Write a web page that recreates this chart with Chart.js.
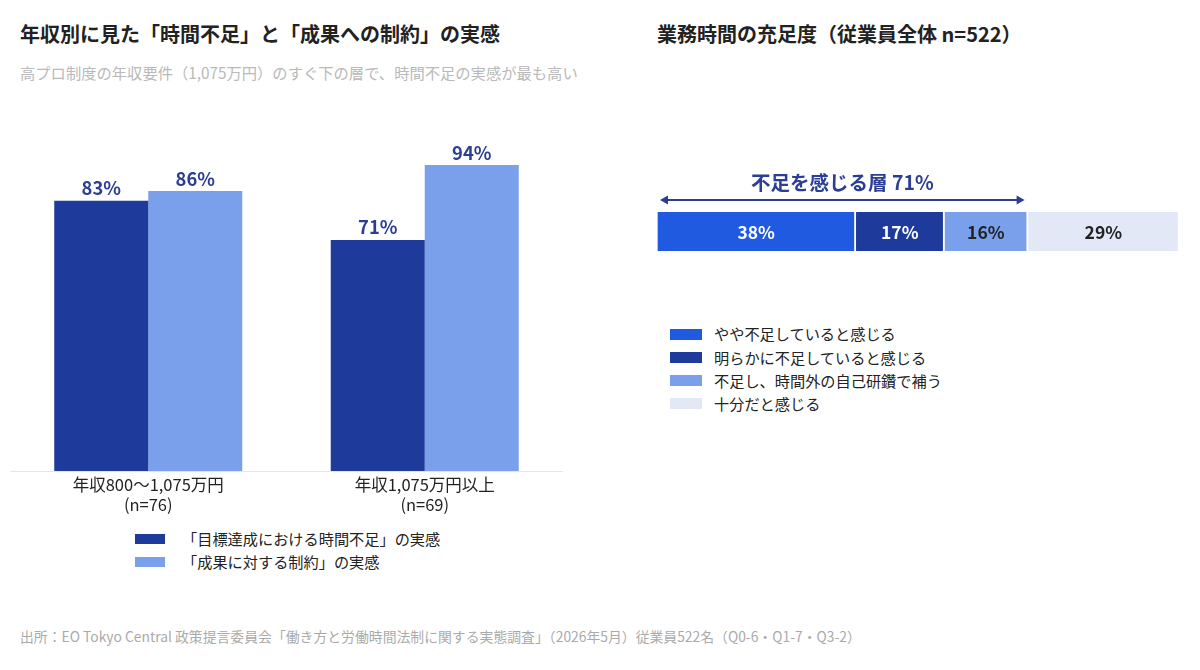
<!DOCTYPE html>
<html lang="ja">
<head>
<meta charset="utf-8">
<script src="https://cdn.jsdelivr.net/npm/chart.js@4.4.1/dist/chart.umd.min.js"></script>
<style>
  html, body { margin:0; padding:0; background:#fff; }
  body { width:1200px; height:670px; position:relative; overflow:hidden;
         font-family:"Noto Sans CJK JP","Noto Sans",sans-serif; color:#222; }
  .abs { position:absolute; }
  .title { font-size:20px; font-weight:700; color:#222; line-height:1; white-space:nowrap; }
  .sub { font-size:15.3px; color:#b9b9b9; line-height:1; white-space:nowrap; }
  .foot { font-size:13.85px; color:#aaa; line-height:1; white-space:nowrap; }
  .leg { font-size:15.2px; color:#222; line-height:1; white-space:nowrap; display:flex; align-items:center; }
  .sw { display:inline-block; }
</style>
</head>
<body>
<script>
// ---- Data ----
const leftCategories = [["年収800〜1,075万円", "(n=76)"], ["年収1,075万円以上", "(n=69)"]];
const leftSeriesNames = ["「目標達成における時間不足」の実感", "「成果に対する制約」の実感"];
const timeShortage = [83, 71];
const constraint = [86, 94];

const rightSeriesNames = ["やや不足していると感じる", "明らかに不足していると感じる", "不足し、時間外の自己研鑽で補う", "十分だと感じる"];
const rightValues = [38, 17, 16, 29];
const shortageLabel = "不足を感じる層";
</script>

<div class="abs title" style="left:20px; top:24px;">年収別に見た「時間不足」と「成果への制約」の実感</div>
<div class="abs sub" style="left:20px; top:65px;">高プロ制度の年収要件（1,075万円）のすぐ下の層で、時間不足の実感が最も高い</div>
<div class="abs title" style="left:657px; top:24px;">業務時間の充足度（従業員全体 n=522）</div>

<div class="abs" style="left:10px; top:120px; width:553px; height:400px;"><canvas id="left"></canvas></div>
<div class="abs" style="left:657px; top:150px; width:522px; height:120px;"><canvas id="right"></canvas></div>

<div id="legL" class="abs" style="left:135px; top:527.5px;"></div>
<div id="legR" class="abs" style="left:670px; top:322.5px;"></div>

<div class="abs foot" style="left:20px; top:630px;">出所：EO Tokyo Central 政策提言委員会「働き方と労働時間法制に関する実態調査」（2026年5月）従業員522名（Q0-6・Q1-7・Q3-2）</div>

<script>
const FONT = '"Noto Sans CJK JP","Noto Sans",sans-serif';
const leftColors = ["#1e3a9a", "#7aa0ec"];
const rightColors = ["#1f5ae0", "#1e3a9a", "#7aa0ec", "#e2e8f6"];
const rightLabelColors = ["#ffffff", "#ffffff", "#222222", "#222222"];
const navy = "#2b3e94";

// Left legend
const legL = document.getElementById('legL');
leftSeriesNames.forEach((n, i) => {
  const d = document.createElement('div');
  d.className = 'leg';
  d.style.height = '23px';
  d.innerHTML = `<span class="sw" style="background:${leftColors[i]};width:30px;height:10px;"></span><span style="margin-left:17px;">${n}</span>`;
  legL.appendChild(d);
});
// Right legend
const legR = document.getElementById('legR');
rightSeriesNames.forEach((n, i) => {
  const d = document.createElement('div');
  d.className = 'leg';
  d.style.height = '23.2px';
  d.innerHTML = `<span class="sw" style="background:${rightColors[i]};width:32px;height:11px;"></span><span style="margin-left:12px;">${n}</span>`;
  legR.appendChild(d);
});

const topLabels = {
  id: 'topLabels',
  afterDatasetsDraw(chart) {
    const ctx = chart.ctx;
    ctx.save();
    ctx.font = `700 18.4px ${FONT}`;
    ctx.fillStyle = navy;
    ctx.textAlign = 'center';
    ctx.textBaseline = 'middle';
    chart.data.datasets.forEach((ds, di) => {
      chart.getDatasetMeta(di).data.forEach((bar, i) => {
        ctx.fillText(ds.data[i] + '%', bar.x, bar.y - 12.5);
      });
    });
    ctx.restore();
  }
};

new Chart(document.getElementById('left'), {
  type: 'bar',
  data: {
    labels: leftCategories,
    datasets: [
      { label: leftSeriesNames[0], data: timeShortage, backgroundColor: leftColors[0] },
      { label: leftSeriesNames[1], data: constraint, backgroundColor: leftColors[1] }
    ]
  },
  options: {
    responsive: true, maintainAspectRatio: false, animation: false,
    layout: { padding: { top: 25.5, left: 0, right: 0, bottom: 0 } },
    datasets: { bar: { categoryPercentage: 0.68, barPercentage: 1.0 } },
    plugins: { legend: { display: false }, tooltip: { enabled: false } },
    scales: {
      y: { display: false, min: 0, max: 100 },
      x: {
        grid: { display: false, drawTicks: false },
        border: { display: true, color: '#e6e6e6', width: 1 },
        ticks: { color: '#222', font: { family: FONT, size: 16.5, lineHeight: 1.21 }, padding: 4, maxRotation: 0 },
        afterFit(scale) { scale.height = 49; }
      }
    }
  },
  plugins: [topLabels]
});

const segLabels = {
  id: 'segLabels',
  afterDatasetsDraw(chart) {
    const ctx = chart.ctx;
    ctx.save();
    ctx.font = `600 17.5px ${FONT}`;
    ctx.textAlign = 'center';
    ctx.textBaseline = 'middle';
    chart.data.datasets.forEach((ds, di) => {
      const bar = chart.getDatasetMeta(di).data[0];
      const cx = (bar.x + bar.base) / 2;
      ctx.fillStyle = rightLabelColors[di];
      ctx.fillText(ds.data[0] + '%', cx, bar.y + 0.5);
    });
    // arrow over shortage segments
    const sx = chart.scales.x;
    const shortageSum = rightValues.slice(0, 3).reduce((a, b) => a + b, 0);
    const x0 = sx.getPixelForValue(0) + 3, x1 = sx.getPixelForValue(shortageSum) - 3;
    const y = chart.chartArea.top - 12;
    ctx.strokeStyle = navy; ctx.fillStyle = navy; ctx.lineWidth = 2;
    ctx.beginPath(); ctx.moveTo(x0 + 4, y); ctx.lineTo(x1 - 4, y); ctx.stroke();
    ctx.beginPath(); ctx.moveTo(x0, y); ctx.lineTo(x0 + 8, y - 4.5); ctx.lineTo(x0 + 8, y + 4.5); ctx.closePath(); ctx.fill();
    ctx.beginPath(); ctx.moveTo(x1, y); ctx.lineTo(x1 - 8, y - 4.5); ctx.lineTo(x1 - 8, y + 4.5); ctx.closePath(); ctx.fill();
    ctx.font = `700 19.5px ${FONT}`;
    ctx.textBaseline = 'middle';
    ctx.fillText(shortageLabel + ' ' + shortageSum + '%', (x0 + x1) / 2, y - 17);
    ctx.restore();
  }
};

new Chart(document.getElementById('right'), {
  type: 'bar',
  data: {
    labels: ['全体'],
    datasets: rightSeriesNames.map((n, i) => ({
      label: n, data: [rightValues[i]], backgroundColor: rightColors[i],
      borderColor: '#ffffff', borderWidth: { left: 1, right: 1.5, top: 0, bottom: 0 }, borderSkipped: false
    }))
  },
  options: {
    indexAxis: 'y',
    responsive: true, maintainAspectRatio: false, animation: false,
    layout: { padding: { top: 62, bottom: 19, left: 0, right: 0 } },
    datasets: { bar: { categoryPercentage: 1.0, barPercentage: 1.0 } },
    plugins: { legend: { display: false }, tooltip: { enabled: false } },
    scales: {
      x: { display: false, stacked: true, min: 0, max: 100 },
      y: { display: false, stacked: true }
    }
  },
  plugins: [segLabels]
});
</script>
</body>
</html>
